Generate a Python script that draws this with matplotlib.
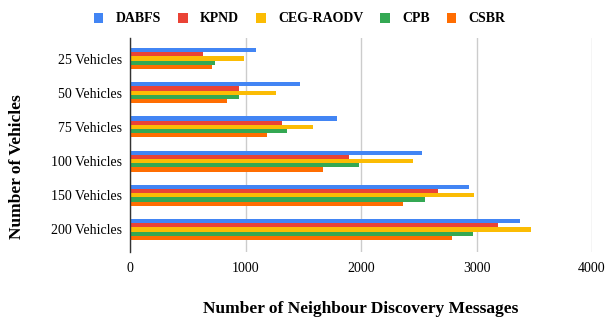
import numpy as np
import matplotlib.pyplot as plt

categories = ['25 Vehicles', '50 Vehicles', '75 Vehicles', '100 Vehicles', '150 Vehicles', '200 Vehicles']
series_names = ['DABFS', 'KPND', 'CEG-RAODV', 'CPB', 'CSBR']
dabfs = [1093, 1470, 1794, 2524, 2937, 3378]
kpnd = [634, 940, 1317, 1894, 2668, 3188]
ceg_raodv = [983, 1262, 1586, 2449, 2980, 3468]
cpb = [740, 940, 1355, 1984, 2558, 2974]
csbr = [706, 841, 1190, 1667, 2362, 2786]
colors = ['#4285F4', '#EA4335', '#FBBC04', '#34A853', '#FF6D01']

plt.rcParams['font.family'] = ['Liberation Serif', 'DejaVu Serif']

fig = plt.figure(figsize=(6.08, 3.22), dpi=100)
ax = fig.add_axes([130 / 608, 1 - 252 / 322, (592 - 130) / 608, (252 - 38) / 322])

ys = np.arange(len(categories))
bar_h = 0.123
all_series = [dabfs, kpnd, ceg_raodv, cpb, csbr]
for i, (name, vals) in enumerate(zip(series_names, all_series)):
    offset = (i - 2) * bar_h
    ax.barh(ys + offset, vals, height=bar_h, color=colors[i], label=name, zorder=3)

ax.set_ylim(len(categories) - 0.34, -0.6)
ax.set_xlim(0, 4000)
ax.set_xticks([0, 1000, 2000, 3000, 4000])
ax.set_yticks(ys)
ax.set_yticklabels(categories, fontsize=10)
ax.tick_params(axis='x', labelsize=10, length=0, pad=7)
ax.tick_params(axis='y', length=0, pad=6)
ax.grid(axis='x', color='#cccccc', linewidth=1, zorder=0)
for s in ['top', 'right', 'bottom']:
    ax.spines[s].set_visible(False)
ax.spines['left'].set_color('#333333')
ax.spines['left'].set_linewidth(1)
ax.spines['left'].set_zorder(4)

ax.set_xlabel('Number of Neighbour Discovery Messages', fontsize=12.5, fontweight='bold', labelpad=19)
ax.set_ylabel('Number of Vehicles', fontsize=12.5, fontweight='bold')
ax.yaxis.set_label_coords(-0.228, 0.40)

fig.legend(loc='upper center', bbox_to_anchor=(0.493, 1.0), ncol=5, frameon=False,
           prop={'weight': 'bold', 'size': 10}, handlelength=0.7, handleheight=0.7,
           columnspacing=1.2, handletextpad=0.9)

fig.savefig('out.png', dpi=100)
